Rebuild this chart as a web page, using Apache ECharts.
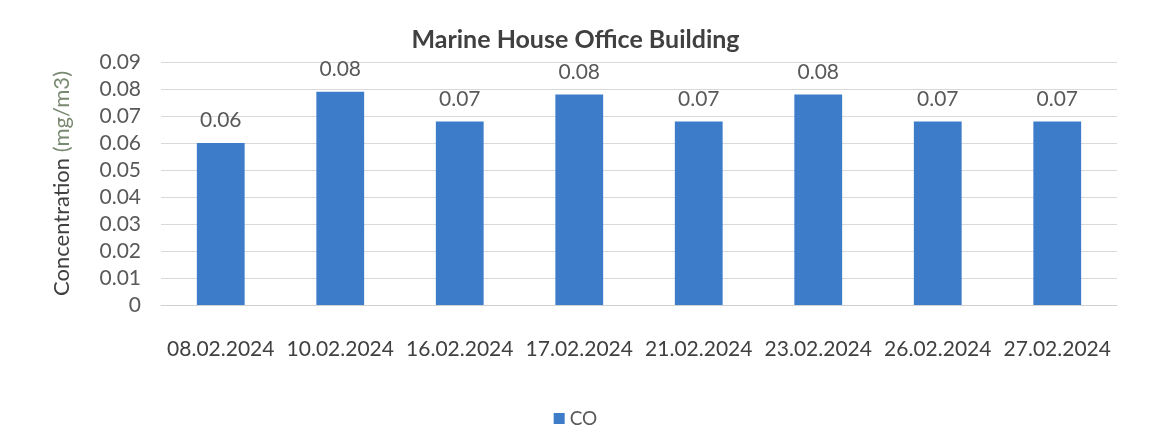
<!DOCTYPE html>
<html>
<head>
<meta charset="utf-8">
<script src="https://cdn.jsdelivr.net/npm/echarts@6/dist/echarts.min.js"></script>
<style>html,body{margin:0;padding:0;background:#fff;}#c{width:1151px;height:445px;}</style>
</head>
<body>
<div id="c"></div>
<script>
var categories = ['08.02.2024','10.02.2024','16.02.2024','17.02.2024','21.02.2024','23.02.2024','26.02.2024','27.02.2024'];
var coValues = [0.060, 0.079, 0.068, 0.078, 0.068, 0.078, 0.068, 0.068];
var yMin = 0, yMax = 0.09, yStep = 0.01;

var chart = echarts.init(document.getElementById('c'));
var font = 'Lato, "Open Sans", sans-serif';
chart.setOption({
  animation: false,
  title: {
    text: 'Marine House Office Building',
    left: 'center', top: 22,
    textStyle: { fontFamily: font, fontSize: 25, fontWeight: 'bold', color: '#404040' }
  },
  legend: {
    bottom: 12, left: 'center',
    itemWidth: 11, itemHeight: 11, itemGap: 6,
    icon: 'rect',
    textStyle: { fontFamily: font, fontSize: 19, color: '#595959' },
    data: ['CO']
  },
  grid: { left: 161, top: 62, width: 956, height: 243 },
  xAxis: {
    type: 'category', data: categories,
    axisLine: { lineStyle: { color: '#d0d0d0' } },
    axisTick: { show: false },
    axisLabel: { interval: 0, fontFamily: font, fontSize: 21, color: '#404040', margin: 34 }
  },
  yAxis: {
    type: 'value', min: yMin, max: yMax, interval: yStep,
    name: 'Concentration {g|(mg/m3)}',
    nameLocation: 'middle', nameGap: 88,
    nameTextStyle: { fontFamily: font, fontSize: 22, color: '#404040',
      rich: { g: { fontFamily: font, fontSize: 22, color: '#7a8a72' } } },
    axisLine: { show: false }, axisTick: { show: false },
    axisLabel: { fontFamily: font, fontSize: 21, color: '#595959', margin: 20,
      formatter: function (v) { return v === 0 ? '0' : v.toFixed(2); } },
    splitLine: { lineStyle: { color: '#d9d9d9' } }
  },
  series: [{
    name: 'CO', type: 'bar', data: coValues,
    barWidth: '40%',
    itemStyle: { color: '#3d7cc9' },
    label: { show: true, position: 'top', distance: 12, fontFamily: font, fontSize: 21, color: '#595959',
      formatter: function (p) { return p.value.toFixed(2); } }
  }]
});
</script>
</body>
</html>
